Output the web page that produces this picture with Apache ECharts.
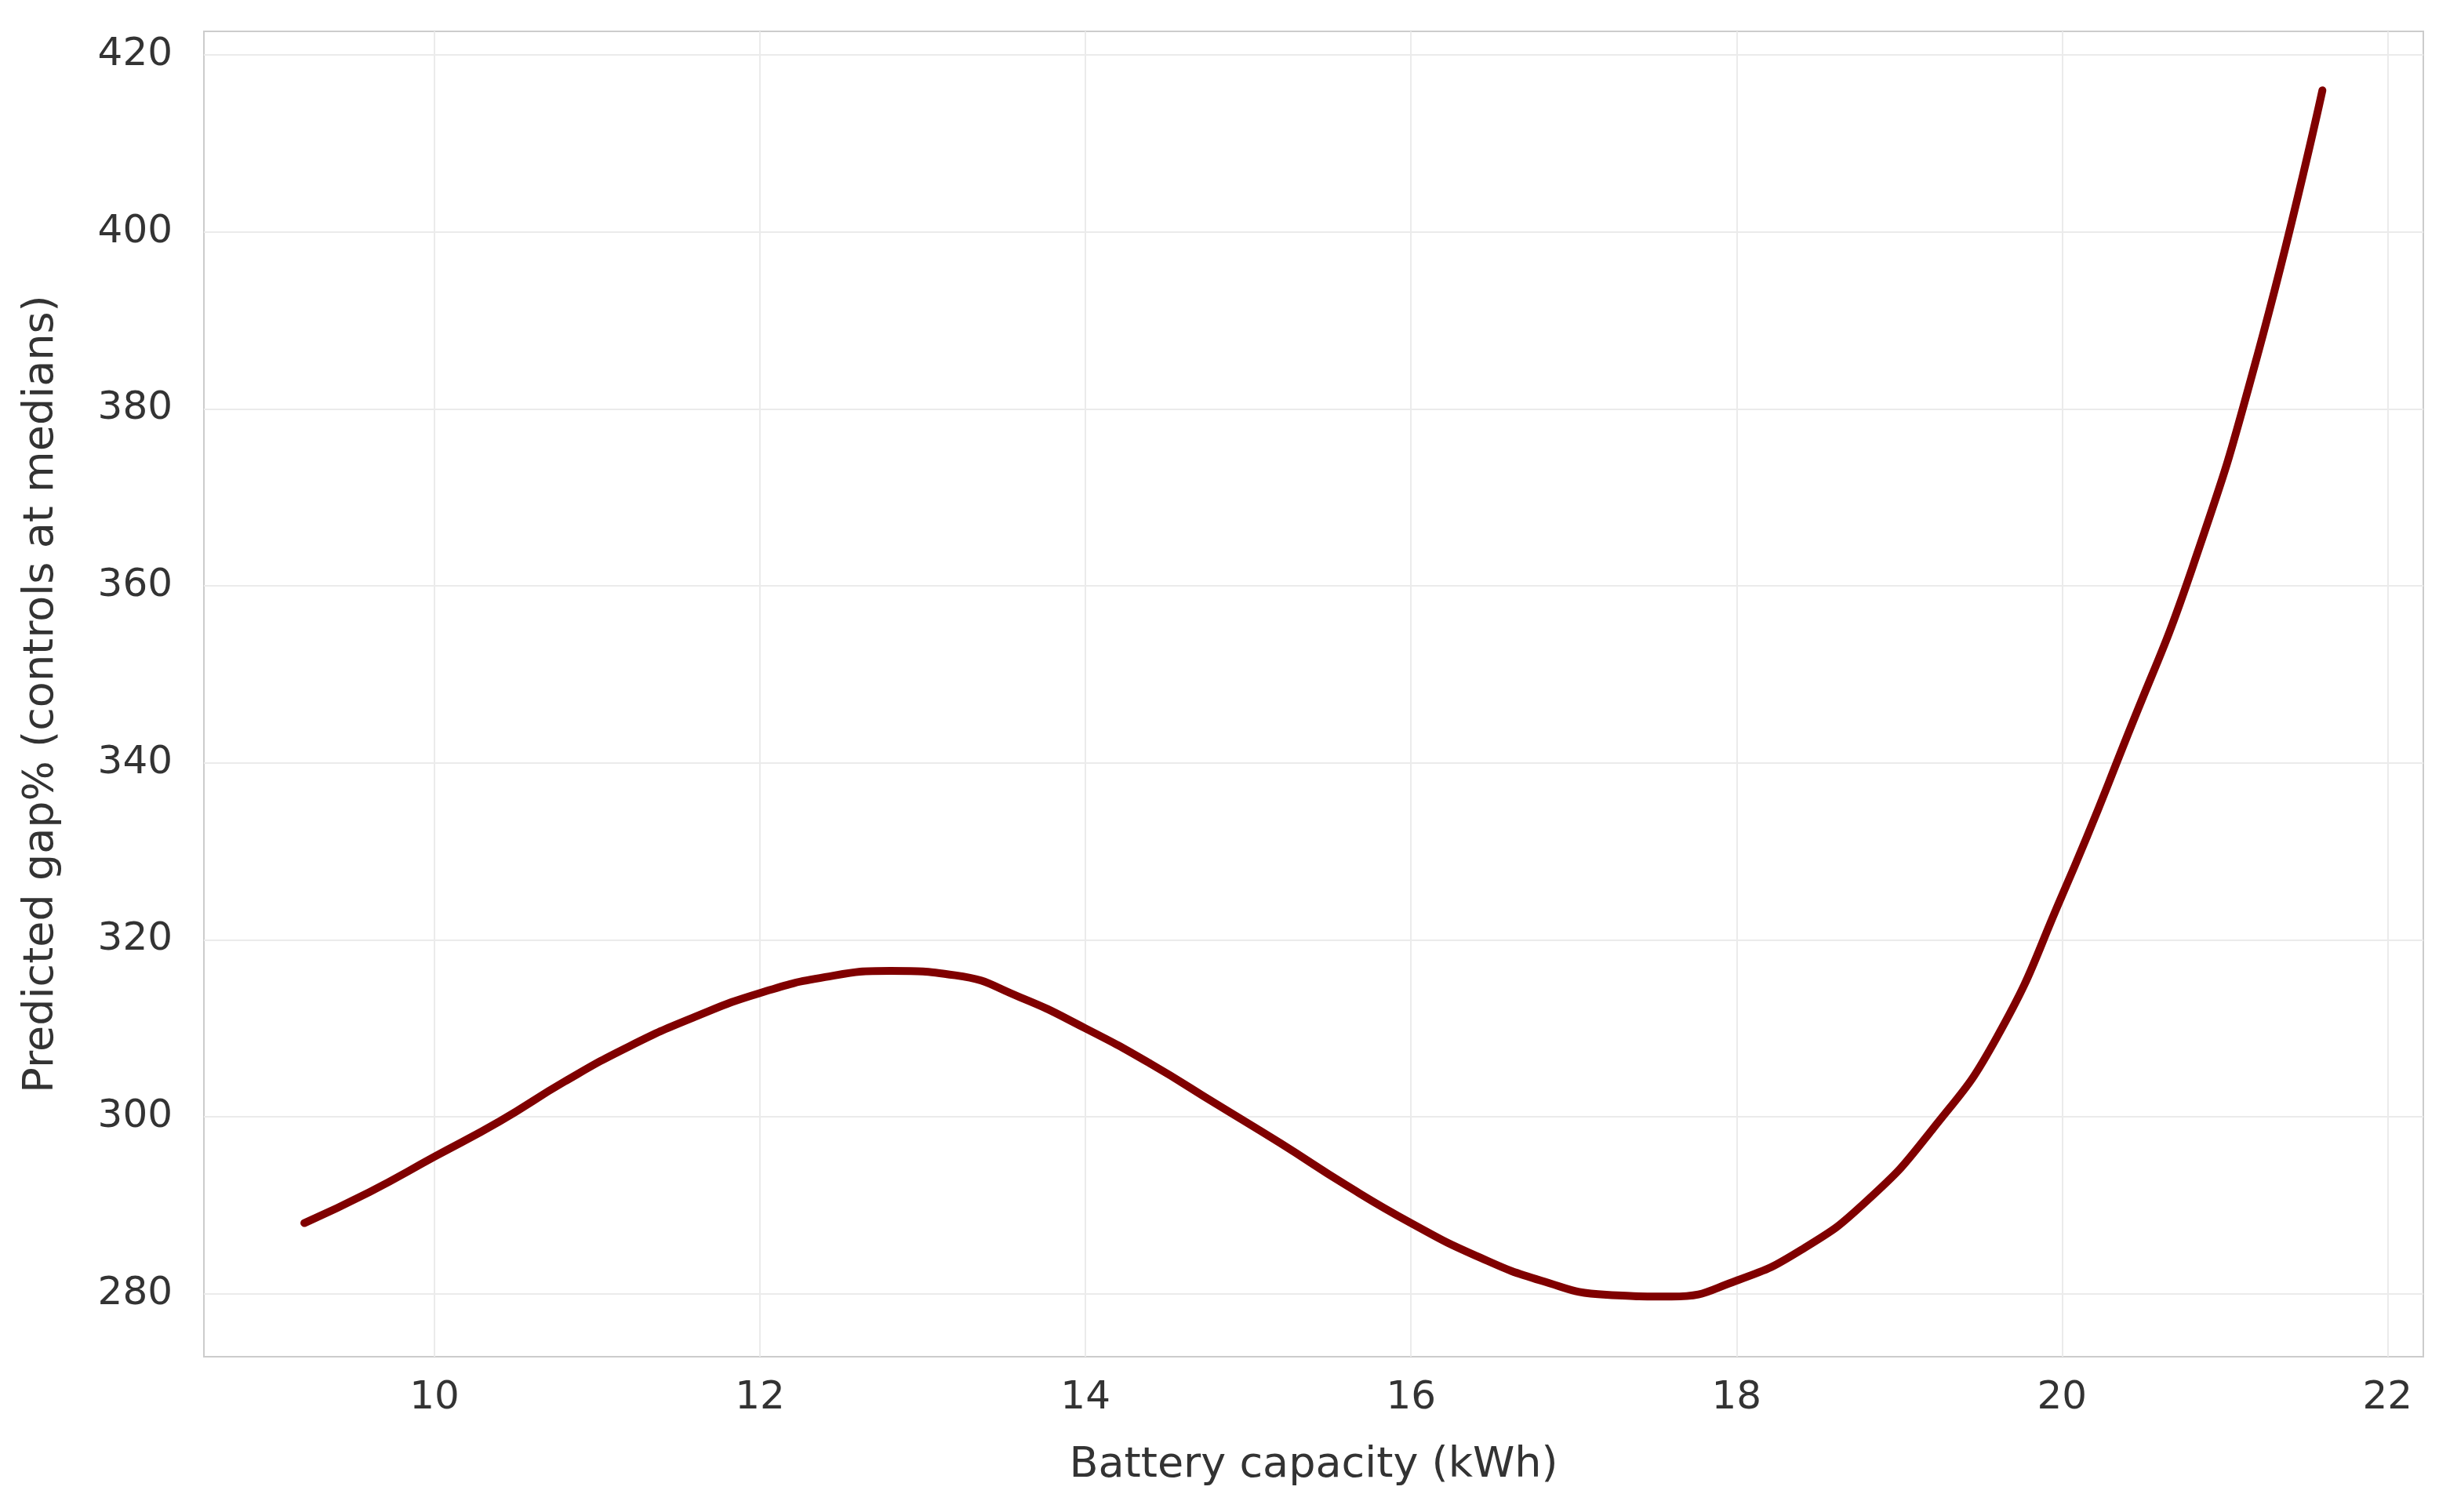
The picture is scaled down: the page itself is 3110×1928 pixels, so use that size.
<!DOCTYPE html>
<html><head><meta charset="utf-8">
<script src="https://cdn.jsdelivr.net/npm/echarts@6/dist/echarts.min.js"></script>
<style>html,body{margin:0;padding:0;background:#fff}#c{width:3110px;height:1928px}</style>
</head><body><div id="c"></div>
<script>
const capacity = [9.2,9.6,10,10.4,10.8,11.2,11.6,12,12.4,12.8,13.2,13.6,14,14.4,14.8,15.2,15.6,16,16.4,16.8,17.2,17.6,18,18.4,18.8,19.2,19.6,20,20.4,20.8,21.2,21.6];
const gap = [288,291.5,295.5,299.5,304,308,311.3,314,315.8,316.5,316,313.5,310,306,301.5,297,292.3,288,284.3,281.5,279.9,279.7,281.5,285,290.5,298.5,309,325,343,362,386,416];
const xTicks = [10,12,14,16,18,20,22];
const yTicks = [280,300,320,340,360,380,400,420];
const font = 'DejaVu Sans';
const chart = echarts.init(document.getElementById('c'));
chart.setOption({
  animation:false,
  grid:{left:260,right:20,top:40,bottom:198,show:true,borderColor:'#cccccc',borderWidth:2},
  xAxis:{type:'value',min:8.583,max:22.22,name:'Battery capacity (kWh)',nameLocation:'middle',nameGap:112,
    nameTextStyle:{fontFamily:font,fontSize:54,color:'#333'},
    axisLine:{show:false},
    axisTick:{show:false,customValues:xTicks},
    axisLabel:{customValues:xTicks,fontFamily:font,fontSize:50,color:'#333',margin:28},
    splitLine:{show:true,lineStyle:{color:'#ebebeb',width:2}}},
  yAxis:{type:'value',min:272.9,max:422.66,name:'Predicted gap% (controls at medians)',nameLocation:'middle',nameGap:180,
    nameTextStyle:{fontFamily:font,fontSize:54,color:'#333'},
    axisLine:{show:false},
    axisTick:{show:false,customValues:yTicks},
    axisLabel:{customValues:yTicks,fontFamily:font,fontSize:50,color:'#333',margin:40},
    splitLine:{show:true,lineStyle:{color:'#ebebeb',width:2}}},
  series:[{type:'line',data:capacity.map((x,i)=>[x,gap[i]]),smooth:0.5,showSymbol:false,
    lineStyle:{color:'#800000',width:10,cap:'round'}}]
});
</script></body></html>
